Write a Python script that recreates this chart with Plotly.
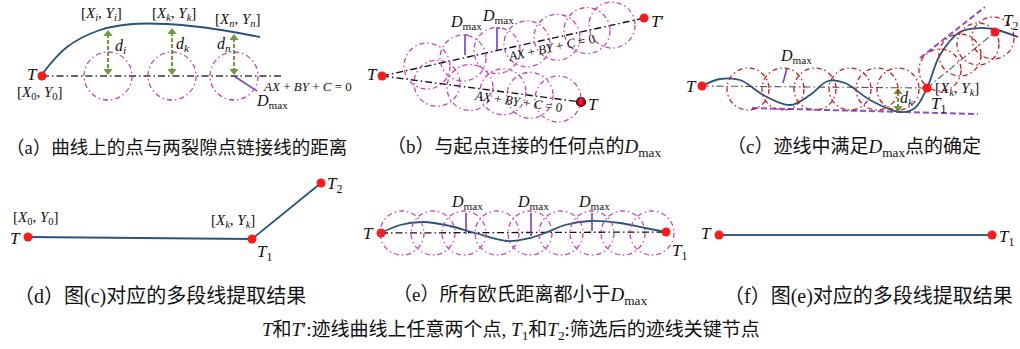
import plotly.graph_objects as go

W, H = 1020, 349
SERIF = "Liberation Serif, Noto Sans CJK SC, serif"

# colours
NAVY = "#27547f"
RED = "#ff1a1a"
MAGENTA = "#d23fb4"
DARKRED = "#cc1a1a"
PURPLE = "#7a3cc4"
GREEN = "#6f9a3c"
GRAY = "#333333"

# ---------------- panel (a) ----------------
a_curve_x = [43, 67, 100, 133, 167, 200, 233, 260]
a_curve_y = [73, 47, 30, 24, 24, 27, 32, 37]
a_base_x = [42, 283]
a_base_y = [76, 76]
a_circle_cx = [108, 172, 234]
a_circle_cy = [76, 76, 76]
a_circle_r = 24
a_arrow_x = [108, 172, 234]
a_arrow_top = [31, 29, 35]
a_arrow_bot = [74, 74, 74]
a_dmax_x = [234, 257]
a_dmax_y = [76, 91]
a_T = (42, 76)

# ---------------- panel (b) ----------------
b_T = (382, 76)
b_Tp = (644, 18)
b_T2 = (581, 102)
b_up_cx = [427, 463, 497, 527, 557, 587, 612]
b_lo_cx = [437, 470, 503, 530, 558]
b_circle_r = 23
b_dmax_x = [465, 497]
b_dmax_top = [35, 28]
b_dmax_bot = [55, 50]

# ---------------- panel (c) ----------------
c_curve_x = [702, 720, 740, 765, 790, 810, 828, 845, 870, 900, 915, 927, 940, 960, 980, 997, 1018]
c_curve_y = [86, 79, 80, 96, 105, 95, 81, 83, 100, 112, 108, 88, 55, 32, 28, 30, 37]
c_T = (702, 86)
c_T1 = (927, 88)
c_T2 = (995, 32)
c_circle_cx = [748, 783, 815, 850, 877, 898, 940, 960, 978, 993]
c_circle_cy = [89, 89, 89, 89, 89, 89, 70, 55, 44, 38]
c_circle_r = 21
c_bottom_tan_x = [752, 978]
c_bottom_tan_y = [108, 114]
c_top_tan_x = [920, 985]
c_top_tan_y = [58, 7]
c_dmax_x = [783, 787]
c_dmax_y = [83, 68]
c_dk_x = 898
c_dk_top, c_dk_bot = 89, 111

# ---------------- panel (d) ----------------
d_x = [28, 252, 321]
d_y = [237, 239, 183]

# ---------------- panel (e) ----------------
e_curve_x = [381, 400, 423, 450, 475, 507, 530, 545, 565, 590, 620, 645, 666]
e_curve_y = [233, 225, 222, 226, 233, 241, 238, 233, 225, 221, 223, 228, 232]
e_base_x = [381, 666]
e_base_y = [233, 232]
e_circle_cx = [402, 433, 464, 497, 530, 561, 592, 623, 652]
e_circle_cy = [233] * 9
e_circle_r = 22
e_dmax_x = [466, 531, 592]
e_dmax_top = [213, 213, 213]
e_dmax_bot = [234, 236, 231]

# ---------------- panel (f) ----------------
f_x = [719, 992]
f_y = [235, 235]

fig = go.Figure()
shapes = []


def line(xs, ys, color, width=1.5, dash="solid", shape="linear"):
    fig.add_trace(go.Scatter(x=xs, y=ys, mode="lines", hoverinfo="skip",
                             line=dict(color=color, width=width, dash=dash, shape=shape,
                                       smoothing=1.0)))


def dots(xs, ys, color=RED, size=9, outline=None):
    fig.add_trace(go.Scatter(x=xs, y=ys, mode="markers", hoverinfo="skip",
                             marker=dict(color=color, size=size,
                                         line=dict(color=outline or color, width=1.2 if outline else 0))))


def circles(cxs, cys, r, color):
    for cx, cy in zip(cxs, cys):
        shapes.append(dict(type="circle", xref="x", yref="y", x0=cx - r, x1=cx + r,
                           y0=cy - r, y1=cy + r,
                           line=dict(color=color, width=1.3, dash="5px,3px,1.5px,3px")))


def double_arrow(x, top, bot, color=GREEN):
    line([x, x], [top + 3, bot - 3], color, width=2, dash="4px,2px")
    fig.add_trace(go.Scatter(x=[x, x], y=[top + 3, bot - 3], mode="markers", hoverinfo="skip",
                             marker=dict(symbol=["triangle-up", "triangle-down"], size=8,
                                         color=color)))


DASHDOT = "7px,3px,1.5px,3px"

# panel (a)
circles(a_circle_cx, a_circle_cy, a_circle_r, MAGENTA)
line(a_base_x, a_base_y, GRAY, 1.3, DASHDOT)
line(a_curve_x, a_curve_y, NAVY, 1.8, shape="spline")
for x, t, b in zip(a_arrow_x, a_arrow_top, a_arrow_bot):
    double_arrow(x, t, b)
line(a_dmax_x, a_dmax_y, PURPLE, 1.6)
dots([a_T[0]], [a_T[1]])

# panel (b)
def on_line(p, q, xs):
    k = (q[1] - p[1]) / (q[0] - p[0])
    return [p[1] + (x - p[0]) * k for x in xs]


circles(b_up_cx, on_line(b_T, b_Tp, b_up_cx), b_circle_r, MAGENTA)
circles(b_lo_cx, on_line(b_T, b_T2, b_lo_cx), b_circle_r, MAGENTA)
line([b_T[0], b_Tp[0]], [b_T[1], b_Tp[1]], "#111111", 1.4, DASHDOT)
line([b_T[0], b_T2[0]], [b_T[1], b_T2[1]], "#111111", 1.4, DASHDOT)
for x, t, b in zip(b_dmax_x, b_dmax_top, b_dmax_bot):
    line([x + 3, x, x], [t, t, b], PURPLE, 1.6)
dots([b_T[0], b_Tp[0]], [b_T[1], b_Tp[1]])
dots([b_T2[0]], [b_T2[1]], color="#e00000", outline="#111111")

# panel (c)
circles(c_circle_cx, c_circle_cy, c_circle_r, DARKRED)
line([c_T[0], c_T1[0]], [c_T[1], c_T1[1]], "#555555", 1.1, DASHDOT)
line([c_T1[0], c_T2[0]], [c_T1[1], c_T2[1]], "#555555", 1.1, DASHDOT)
line(c_bottom_tan_x, c_bottom_tan_y, "#8a4fd0", 2, "6px,3px")
line(c_top_tan_x, c_top_tan_y, "#8a4fd0", 2, "6px,3px")
line(c_curve_x, c_curve_y, NAVY, 1.8, shape="spline")
line(c_dmax_x, c_dmax_y, PURPLE, 1.6)
double_arrow(c_dk_x, c_dk_top, c_dk_bot)
dots([c_T[0], c_T1[0], c_T2[0]], [c_T[1], c_T1[1], c_T2[1]])

# panel (d)
line(d_x, d_y, NAVY, 1.8)
dots(d_x, d_y)

# panel (e)
circles(e_circle_cx, e_circle_cy, e_circle_r, MAGENTA)
line(e_base_x, e_base_y, "#111111", 1.3, DASHDOT)
line(e_curve_x, e_curve_y, NAVY, 1.8, shape="spline")
for x, t, b in zip(e_dmax_x, e_dmax_top, e_dmax_bot):
    line([x, x], [t, b], PURPLE, 1.6)
dots([e_base_x[0], e_base_x[1]], [e_base_y[0], e_base_y[1]])

# panel (f)
line(f_x, f_y, "#3a5f85", 2)
dots(f_x, f_y)

# ---------------- text ----------------
DM = "<i>D</i><sub>max</sub>"
EQ = "<i>AX</i> + <i>BY</i> + <i>C</i> = 0"
labels = [
    # (x, y, text, size, xanchor, angle)
    (32, 74, "<i>T</i>", 17, "center", 0),
    (40, 93, "[<i>X</i><sub>0</sub>, <i>Y</i><sub>0</sub>]", 15, "center", 0),
    (101, 14, "[<i>X</i><sub><i>i</i></sub>, <i>Y</i><sub><i>i</i></sub>]", 15, "center", 0),
    (174, 14, "[<i>X</i><sub><i>k</i></sub>, <i>Y</i><sub><i>k</i></sub>]", 15, "center", 0),
    (238, 20, "[<i>X</i><sub><i>n</i></sub>, <i>Y</i><sub><i>n</i></sub>]", 15, "center", 0),
    (120, 46, "<i>d</i><sub><i>i</i></sub>", 16, "center", 0),
    (183, 44, "<i>d</i><sub><i>k</i></sub>", 16, "center", 0),
    (224, 44, "<i>d</i><sub><i>n</i></sub>", 16, "center", 0),
    (261, 86, EQ, 13, "left", 0),
    (272, 101, DM, 16, "center", 0),
    (372, 74, "<i>T</i>", 17, "center", 0),
    (657, 21, "<i>T</i>′", 17, "center", 0),
    (593, 104, "<i>T</i>", 17, "center", 0),
    (466, 22, DM, 16, "center", 0),
    (498, 16, DM, 16, "center", 0),
    (551, 47, EQ, 13, "center", -12),
    (518, 101, EQ, 13, "center", 8),
    (691, 86, "<i>T</i>", 17, "center", 0),
    (796, 56, DM, 16, "center", 0),
    (907, 98, "<i>d</i><sub><i>k</i></sub>", 16, "center", 0),
    (957, 89, "[<i>X</i><sub><i>k</i></sub>, <i>Y</i><sub><i>k</i></sub>]", 15, "center", 0),
    (938, 105, "<i>T</i><sub>1</sub>", 17, "center", 0),
    (1010, 22, "<i>T</i><sub>2</sub>", 17, "center", 0),
    (15, 238, "<i>T</i>", 17, "center", 0),
    (36, 218, "[<i>X</i><sub>0</sub>, <i>Y</i><sub>0</sub>]", 15, "center", 0),
    (233, 221, "[<i>X</i><sub><i>k</i></sub>, <i>Y</i><sub><i>k</i></sub>]", 15, "center", 0),
    (264, 253, "<i>T</i><sub>1</sub>", 17, "center", 0),
    (334, 185, "<i>T</i><sub>2</sub>", 17, "center", 0),
    (368, 233, "<i>T</i>", 17, "center", 0),
    (679, 252, "<i>T</i><sub>1</sub>", 17, "center", 0),
    (467, 202, DM, 16, "center", 0),
    (533, 202, DM, 16, "center", 0),
    (594, 202, DM, 16, "center", 0),
    (706, 233, "<i>T</i>", 17, "center", 0),
    (1006, 238, "<i>T</i><sub>1</sub>", 17, "center", 0),
]

captions = [
    # (x, y, text, size)
    (176, 148, "（a）曲线上的点与两裂隙点链接线的距离", 18.5),
    (524, 148, "（b）与起点连接的任何点的" + DM, 19),
    (854, 148, "（c）迹线中满足" + DM + "点的确定", 19),
    (160, 296, "（d）图(c)对应的多段线提取结果", 20),
    (520, 296, "（e）所有欧氏距离都小于" + DM, 19),
    (868, 296, "（f）图(e)对应的多段线提取结果", 20),
    (511, 331, "<i>T</i>和<i>T</i>′:迹线曲线上任意两个点, <i>T</i><sub>1</sub>和<i>T</i><sub>2</sub>:筛选后的迹线关键节点", 19),
]

annotations = []
for x, y, t, s, xa, ang in labels:
    annotations.append(dict(x=x, y=y, xref="x", yref="y", text=t, showarrow=False,
                            xanchor=xa, yanchor="middle", textangle=ang,
                            font=dict(family=SERIF, size=s, color="#111111")))
for x, y, t, s in captions:
    annotations.append(dict(x=x, y=y, xref="x", yref="y", text=t, showarrow=False,
                            xanchor="center", yanchor="middle",
                            font=dict(family=SERIF, size=s, color="#111111")))

fig.update_layout(
    width=W, height=H, margin=dict(l=0, r=0, t=0, b=0),
    paper_bgcolor="white", plot_bgcolor="white", showlegend=False,
    xaxis=dict(range=[0, W], visible=False, fixedrange=True),
    yaxis=dict(range=[H, 0], visible=False, fixedrange=True),
    shapes=shapes, annotations=annotations,
)
fig.write_html("out.html", config={"displayModeBar": False})
